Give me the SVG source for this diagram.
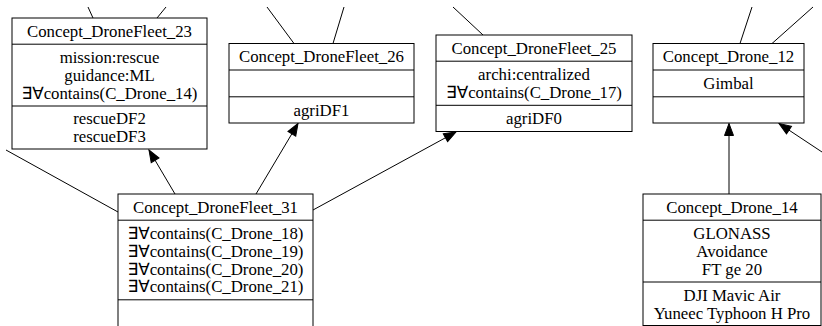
<svg xmlns="http://www.w3.org/2000/svg" width="822" height="326" viewBox="0 0 822 326">
<style>
.box{fill:#fff;stroke:#000;stroke-width:1}
.div{stroke:#000;stroke-width:1}
text{font-family:"Liberation Serif","DejaVu Sans",serif;font-size:16.8px;fill:#000;text-anchor:middle}
.edge{fill:none;stroke:#000;stroke-width:1}
</style>
<defs>
<marker id="ah" markerUnits="userSpaceOnUse" markerWidth="13" markerHeight="10" refX="12" refY="4.5" orient="auto" overflow="visible">
<path d="M0,0 L12,4.5 L0,9 z" fill="#000" stroke="#000" stroke-width="1"/>
</marker>
</defs>
<rect width="822" height="326" fill="#fff"/>
<g id="connectors">
<line class="edge" x1="88" y1="7" x2="93" y2="18"/>
<line class="edge" x1="166" y1="7" x2="157" y2="18"/>
<line class="edge" x1="267" y1="7" x2="294" y2="43.5"/>
<line class="edge" x1="344" y1="7" x2="333" y2="43.5"/>
<line class="edge" x1="453" y1="7" x2="483" y2="35"/>
<line class="edge" x1="752" y1="7" x2="740" y2="43.5"/>
<line class="edge" x1="813" y1="7" x2="772" y2="43.5"/>
<line class="edge" x1="6" y1="150" x2="118" y2="212"/>
<line class="edge" x1="175" y1="194" x2="149" y2="150" marker-end="url(#ah)"/>
<line class="edge" x1="256" y1="194" x2="298" y2="123.5" marker-end="url(#ah)"/>
<line class="edge" x1="313" y1="210" x2="456" y2="132" marker-end="url(#ah)"/>
<line class="edge" x1="729" y1="194" x2="729" y2="123.5" marker-end="url(#ah)"/>
<line class="edge" x1="822" y1="152" x2="779" y2="123.5" marker-end="url(#ah)"/>
</g>
<g id="Concept_DroneFleet_23">
<rect class="box" x="12" y="18" width="195" height="131"/>
<line class="div" x1="12" y1="44.2" x2="207" y2="44.2"/>
<line class="div" x1="12" y1="106" x2="207" y2="106"/>
<text x="109.5" y="36.7">Concept_DroneFleet_23</text>
<text x="109.5" y="62.9">mission:rescue</text>
<text x="109.5" y="80.7">guidance:ML</text>
<text x="109.5" y="98.5">∃∀contains(C_Drone_14)</text>
<text x="109.5" y="124">rescueDF2</text>
<text x="109.5" y="141.5">rescueDF3</text>
</g>
<g id="Concept_DroneFleet_26">
<rect class="box" x="229" y="43.5" width="185" height="79.5"/>
<line class="div" x1="229" y1="70" x2="414" y2="70"/>
<line class="div" x1="229" y1="96.8" x2="414" y2="96.8"/>
<text x="321.5" y="62.2">Concept_DroneFleet_26</text>
<text x="321.5" y="115.5">agriDF1</text>
</g>
<g id="Concept_DroneFleet_25">
<rect class="box" x="436" y="35" width="196" height="96.5"/>
<line class="div" x1="436" y1="61.2" x2="632" y2="61.2"/>
<line class="div" x1="436" y1="105.3" x2="632" y2="105.3"/>
<text x="534" y="53.7">Concept_DroneFleet_25</text>
<text x="534" y="79.9">archi:centralized</text>
<text x="534" y="97.7">∃∀contains(C_Drone_17)</text>
<text x="534" y="124">agriDF0</text>
</g>
<g id="Concept_Drone_12">
<rect class="box" x="653" y="43.5" width="151" height="79.5"/>
<line class="div" x1="653" y1="70" x2="804" y2="70"/>
<line class="div" x1="653" y1="96.8" x2="804" y2="96.8"/>
<text x="728.5" y="62.2">Concept_Drone_12</text>
<text x="728.5" y="88.7">Gimbal</text>
</g>
<g id="Concept_DroneFleet_31">
<rect class="box" x="118" y="194" width="195" height="133"/>
<line class="div" x1="118" y1="220.2" x2="313" y2="220.2"/>
<line class="div" x1="118" y1="299.8" x2="313" y2="299.8"/>
<text x="215.5" y="212.7">Concept_DroneFleet_31</text>
<text x="215.5" y="238.9">∃∀contains(C_Drone_18)</text>
<text x="215.5" y="256.7">∃∀contains(C_Drone_19)</text>
<text x="215.5" y="274.5">∃∀contains(C_Drone_20)</text>
<text x="215.5" y="292.3">∃∀contains(C_Drone_21)</text>
</g>
<g id="Concept_Drone_14">
<rect class="box" x="643" y="194" width="178" height="131.5"/>
<line class="div" x1="643" y1="220.2" x2="821" y2="220.2"/>
<line class="div" x1="643" y1="282" x2="821" y2="282"/>
<text x="732" y="212.7">Concept_Drone_14</text>
<text x="732" y="238.9">GLONASS</text>
<text x="732" y="256.7">Avoidance</text>
<text x="732" y="274.5">FT ge 20</text>
<text x="732" y="300.7">DJI Mavic Air</text>
<text x="732" y="318.5">Yuneec Typhoon H Pro</text>
</g>
</svg>
